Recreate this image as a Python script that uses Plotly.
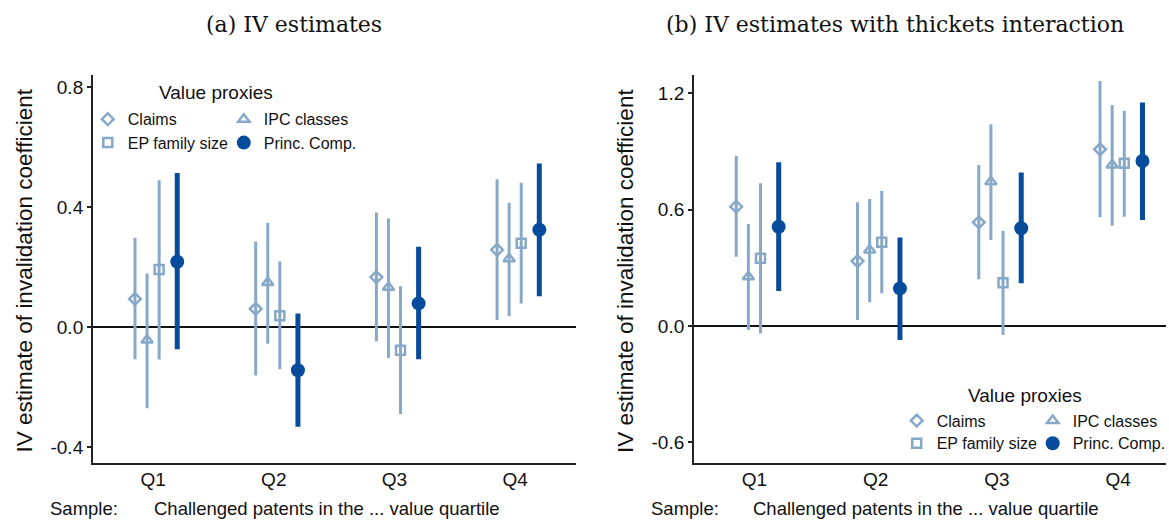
import plotly.graph_objects as go

W, H = 1169, 522

quartiles = ["Q1", "Q2", "Q3", "Q4"]
series_names = ["Claims", "IPC classes", "EP family size", "Princ. Comp."]

# ---- Panel (a): IV estimates ----
a_claims_pt = [0.094, 0.061, 0.167, 0.258]
a_claims_lo = [-0.107, -0.162, -0.047, 0.024]
a_claims_hi = [0.298, 0.286, 0.382, 0.493]
a_ipc_pt = [-0.043, 0.149, 0.133, 0.228]
a_ipc_lo = [-0.271, -0.056, -0.103, 0.036]
a_ipc_hi = [0.179, 0.348, 0.362, 0.415]
a_ep_pt = [0.192, 0.038, -0.077, 0.280]
a_ep_lo = [-0.108, -0.141, -0.290, 0.079]
a_ep_hi = [0.490, 0.219, 0.136, 0.482]
a_pc_pt = [0.218, -0.144, 0.079, 0.325]
a_pc_lo = [-0.074, -0.333, -0.107, 0.103]
a_pc_hi = [0.514, 0.045, 0.268, 0.546]

# ---- Panel (b): IV estimates with thickets interaction ----
b_claims_pt = [0.615, 0.335, 0.535, 0.911]
b_claims_lo = [0.357, 0.031, 0.241, 0.561]
b_claims_hi = [0.877, 0.638, 0.830, 1.264]
b_ipc_pt = [0.254, 0.392, 0.744, 0.830]
b_ipc_lo = [-0.021, 0.122, 0.444, 0.517]
b_ipc_hi = [0.526, 0.655, 1.040, 1.140]
b_ep_pt = [0.349, 0.432, 0.223, 0.839]
b_ep_lo = [-0.038, 0.169, -0.046, 0.564]
b_ep_hi = [0.736, 0.696, 0.490, 1.110]
b_pc_pt = [0.512, 0.194, 0.504, 0.851]
b_pc_lo = [0.180, -0.072, 0.220, 0.547]
b_pc_hi = [0.844, 0.457, 0.791, 1.152]

a_yticks = [-0.4, 0.0, 0.4, 0.8]
b_yticks = [-0.6, 0.0, 0.6, 1.2]

LIGHT = "#87a9c7"
DARK = "#074b9d"
SANS = "Liberation Sans, Arial, sans-serif"
SERIF = "DejaVu Serif, serif"

offsets = [-0.15, -0.05, 0.05, 0.20]
styles = [
    dict(symbol="diamond-open", size=9, color=LIGHT, lw=3, mlw=2.5),
    dict(symbol="triangle-up-open", size=10, color=LIGHT, lw=3, mlw=2.5),
    dict(symbol="square-open", size=9, color=LIGHT, lw=3, mlw=2.5),
    dict(symbol="circle", size=14, color=DARK, lw=5, mlw=0),
]

fig = go.Figure()


def add_panel(xa, ya, data, legends):
    base = list(range(1, len(quartiles) + 1))
    for i, (name, (pt, lo, hi)) in enumerate(zip(series_names, data)):
        st = styles[i]
        xs = [b + offsets[i] for b in base]
        lx, ly = [], []
        for x, l, h in zip(xs, lo, hi):
            lx += [x, x, None]
            ly += [l, h, None]
        fig.add_trace(go.Scatter(x=lx, y=ly, mode="lines", xaxis=xa, yaxis=ya,
                                 line=dict(color=st["color"], width=st["lw"]),
                                 showlegend=False, hoverinfo="skip"))
    for i, (name, (pt, lo, hi)) in enumerate(zip(series_names, data)):
        st = styles[i]
        xs = [b + offsets[i] for b in base]
        fig.add_trace(go.Scatter(x=xs, y=pt, mode="markers", name=name, xaxis=xa, yaxis=ya,
                                 marker=dict(symbol=st["symbol"], size=st["size"], color=st["color"],
                                             line=dict(color=st["color"], width=st["mlw"])),
                                 legend=legends[i // 2]))


add_panel("x", "y", [(a_claims_pt, a_claims_lo, a_claims_hi), (a_ipc_pt, a_ipc_lo, a_ipc_hi),
                     (a_ep_pt, a_ep_lo, a_ep_hi), (a_pc_pt, a_pc_lo, a_pc_hi)], ["legend", "legend2"])
add_panel("x2", "y2", [(b_claims_pt, b_claims_lo, b_claims_hi), (b_ipc_pt, b_ipc_lo, b_ipc_hi),
                       (b_ep_pt, b_ep_lo, b_ep_hi), (b_pc_pt, b_pc_lo, b_pc_hi)], ["legend3", "legend4"])

ydom = [1 - 462.5 / H, 1 - 74.5 / H]
axcommon = dict(showline=True, linecolor="#222", linewidth=1.5, showgrid=False,
                tickfont=dict(family=SANS, size=19, color="#111"))
xcommon = dict(axcommon, tickvals=[1, 2, 3, 4], ticktext=quartiles, ticks="", zeroline=False,
               ticklabelstandoff=-1)
ycommon = dict(axcommon, ticks="outside", ticklen=4, tickwidth=1.5, tickcolor="#222",
               zeroline=True, zerolinecolor="#111", zerolinewidth=1.5)

legcommon = dict(orientation="h", xanchor="left", yanchor="middle", bgcolor="rgba(0,0,0,0)",
                 font=dict(family=SANS, size=16, color="#111"), entrywidth=91,
                 entrywidthmode="pixels", itemclick=False, itemdoubleclick=False)

fig.update_layout(
    width=W, height=H, margin=dict(l=0, r=0, t=0, b=0),
    paper_bgcolor="white", plot_bgcolor="white",
    xaxis=dict(xcommon, domain=[93 / W, 577 / W], range=[0.5, 4.5], anchor="y"),
    yaxis=dict(ycommon, domain=ydom, range=[-0.452, 0.843], tickvals=a_yticks,
               ticktext=["%.1f" % v for v in a_yticks], anchor="x"),
    xaxis2=dict(xcommon, domain=[695.6 / W, 1.0], range=[0.5, 4.394], anchor="y2"),
    yaxis2=dict(ycommon, domain=ydom, range=[-0.704, 1.297], tickvals=b_yticks,
                ticktext=["%.1f" % v for v in b_yticks], anchor="x2"),
    legend=dict(legcommon, x=88 / W, y=1 - 119.3 / H),
    legend2=dict(legcommon, x=88 / W, y=1 - 142.7 / H),
    legend3=dict(legcommon, x=899 / W, y=1 - 420.7 / H),
    legend4=dict(legcommon, x=899 / W, y=1 - 443.3 / H),
)

ann = []
ann.append(dict(text="(a) IV estimates", x=295 / W, y=1 - 25 / H, font=dict(family=SERIF, size=22, color="#111")))
ann.append(dict(text="(b) IV estimates with thickets interaction", x=897 / W, y=1 - 25 / H,
                font=dict(family=SERIF, size=22, color="#111")))
for xc in (25, 627):
    ann.append(dict(text="IV estimate of invalidation coefficient", x=xc / W, y=1 - 270.5 / H, textangle=-90,
                    font=dict(family=SANS, size=22.5, color="#111")))
for xs, xc in ((48, 152), (651, 753)):
    ann.append(dict(text="Sample:", x=xs / W, y=1 - 508 / H, xanchor="left", font=dict(family=SANS, size=18.5, color="#111")))
    ann.append(dict(text="Challenged patents in the ... value quartile", x=xc / W, y=1 - 508 / H, xanchor="left",
                    font=dict(family=SANS, size=18.5, color="#111")))
for xc, yc in ((216.7, 93), (1028, 395)):
    ann.append(dict(text="Value proxies", x=xc / W, y=1 - yc / H, font=dict(family=SANS, size=19, color="#111")))

for a in ann:
    a.setdefault("xanchor", "center")
    a.update(xref="paper", yref="paper", yanchor="middle", showarrow=False)
    fig.add_annotation(**a)

fig.write_html("out.html", config={"displayModeBar": False},
               post_script="document.body.style.margin='0px';document.body.style.overflow='hidden';")
